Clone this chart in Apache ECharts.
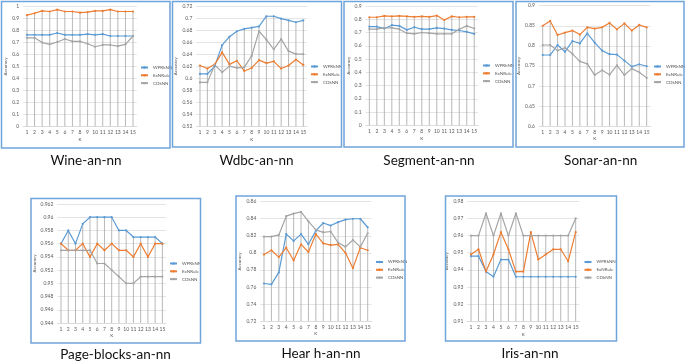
<!DOCTYPE html>
<html><head><meta charset="utf-8">
<script src="https://cdn.jsdelivr.net/npm/echarts@6/dist/echarts.min.js"></script>
<style>html,body{margin:0;padding:0;background:#fff}#c{width:685px;height:364px}</style>
</head><body><div id="c"></div>
<script>
// ---- data ----
const K = ['1','2','3','4','5','6','7','8','9','10','11','12','13','14','15'];
const seriesNames = ['WPRkNN','ExNRule','CDkNN'];

const wineWPR = [0.765,0.765,0.765,0.765,0.78,0.765,0.765,0.765,0.77,0.765,0.77,0.755,0.755,0.755,0.755];
const wineExN = [0.93,0.945,0.965,0.96,0.975,0.96,0.96,0.95,0.955,0.965,0.965,0.975,0.96,0.96,0.96];
const wineCD  = [0.74,0.74,0.70,0.685,0.705,0.73,0.71,0.71,0.69,0.665,0.68,0.68,0.67,0.685,0.755];

const wdbcWPR = [0.607,0.607,0.62,0.655,0.669,0.678,0.682,0.684,0.686,0.703,0.703,0.699,0.696,0.693,0.696];
const wdbcExN = [0.621,0.616,0.623,0.643,0.623,0.629,0.612,0.617,0.630,0.625,0.628,0.616,0.621,0.631,0.622];
const wdbcCD  = [0.593,0.593,0.622,0.610,0.620,0.617,0.618,0.637,0.678,0.664,0.648,0.665,0.645,0.640,0.640];

const segWPR = [0.745,0.745,0.73,0.755,0.75,0.72,0.74,0.725,0.725,0.735,0.73,0.72,0.715,0.705,0.69];
const segExN = [0.815,0.815,0.825,0.822,0.825,0.822,0.818,0.822,0.818,0.828,0.795,0.822,0.815,0.818,0.818];
const segCD  = [0.725,0.725,0.735,0.735,0.725,0.695,0.69,0.70,0.695,0.69,0.69,0.69,0.725,0.75,0.73];

const sonWPR = [0.777,0.777,0.802,0.785,0.812,0.806,0.831,0.808,0.788,0.779,0.778,0.763,0.748,0.754,0.749];
const sonExN = [0.85,0.862,0.827,0.833,0.838,0.828,0.846,0.843,0.846,0.857,0.841,0.856,0.838,0.852,0.846];
const sonCD  = [0.802,0.802,0.788,0.795,0.780,0.761,0.755,0.727,0.739,0.728,0.751,0.727,0.743,0.734,0.720];

const pbWPR = [0.956,0.958,0.956,0.959,0.960,0.960,0.960,0.960,0.958,0.958,0.957,0.957,0.957,0.957,0.956];
const pbExN = [0.956,0.955,0.955,0.956,0.954,0.956,0.955,0.956,0.955,0.955,0.954,0.956,0.954,0.956,0.956];
const pbCD  = [0.955,0.955,0.955,0.955,0.955,0.953,0.953,0.952,0.951,0.950,0.950,0.951,0.951,0.951,0.951];

const heWPR = [0.764,0.763,0.777,0.822,0.814,0.822,0.810,0.826,0.835,0.832,0.836,0.839,0.840,0.840,0.830];
const heExN = [0.798,0.803,0.795,0.806,0.791,0.810,0.801,0.822,0.811,0.809,0.810,0.800,0.782,0.806,0.803];
const heCD  = [0.819,0.819,0.821,0.843,0.846,0.848,0.837,0.827,0.824,0.825,0.812,0.807,0.815,0.807,0.823];

const irWPR = [0.948,0.948,0.939,0.936,0.946,0.946,0.936,0.936,0.936,0.936,0.936,0.936,0.936,0.936,0.936];
const irExN = [0.949,0.952,0.939,0.949,0.962,0.952,0.939,0.939,0.962,0.946,0.949,0.952,0.952,0.945,0.962];
const irCD  = [0.960,0.960,0.973,0.960,0.973,0.960,0.973,0.960,0.960,0.960,0.960,0.960,0.960,0.960,0.970];

const panelTitles = ['Wine-an-nn','Wdbc-an-nn','Segment-an-nn','Sonar-an-nn','Page-blocks-an-nn','Hear h-an-nn','Iris-an-nn'];
const yMins  = [0, 0.52, 0, 0.6, 0.944, 0.72, 0.91];
const yMaxs  = [1, 0.72, 0.9, 0.9, 0.962, 0.86, 0.98];
const ySteps = [0.1, 0.02, 0.1, 0.05, 0.002, 0.02, 0.01];
const panelData = [
  [wineWPR, wineExN, wineCD],
  [wdbcWPR, wdbcExN, wdbcCD],
  [segWPR, segExN, segCD],
  [sonWPR, sonExN, sonCD],
  [pbWPR, pbExN, pbCD],
  [heWPR, heExN, heCD],
  [irWPR, irExN, irCD]
];

// ---- layout / style ----
const colors = ['#5B9BD5','#ED7D31','#A5A5A5'];
const grids = [
  {left:23.2, top:6.7, width:113.6, height:119.6},
  {left:196.3, top:6, width:110.7, height:120.3},
  {left:365.6, top:6, width:112.4, height:119.3},
  {left:539, top:5.7, width:111.4, height:120.3},
  {left:57.4, top:204, width:108.6, height:119},
  {left:260.3, top:201.7, width:111.1, height:119.3},
  {left:467.3, top:201.3, width:112.1, height:120}
];
const yNameGaps = [11.5, 13.5, 13.5, 15, 15, 14, 11];
const legendPos = [
  {left:140, top:65}, {left:310, top:64}, {left:482, top:63}, {left:653, top:64},
  {left:169, top:261}, {left:375, top:259.5}, {left:583.5, top:259.5}
];
const borders = [
  [1.5,1.5,168.5,146.5],[172.5,1.5,169,145.5],[344,1.5,169,145.5],[516,1.5,168,145.5],
  [31,198.5,169.5,144.5],[236,196,169,145],[445.5,196,171,145]
];
const titlePos = [[86,160.5],[256.5,160.5],[429,160.5],[600.7,160.5],[115.5,355],[321,354],[530,354]];

const FONT = 'Lato, "Liberation Sans", sans-serif';
const fmt = v => String(+v.toFixed(4));

const option = {
  animation:false,
  backgroundColor:'#fff',
  grid:[], xAxis:[], yAxis:[], series:[], legend:[], graphic:[]
};

panelData.forEach((arrs, p) => {
  option.grid.push(Object.assign({containLabel:false}, grids[p]));
  option.xAxis.push({
    type:'category', gridIndex:p, data:K, boundaryGap:true,
    name:'K', nameLocation:'middle', nameGap:10.5,
    nameTextStyle:{fontSize:4.5, color:'#595959', fontFamily:FONT},
    axisLine:{show:true, lineStyle:{color:'#d9d9d9', width:0.8}},
    axisTick:{show:false},
    axisLabel:{interval:0, fontSize:5, color:'#595959', margin:3.5, fontFamily:FONT},
    splitLine:{show:false}
  });
  option.yAxis.push({
    type:'value', gridIndex:p, min:yMins[p], max:yMaxs[p], interval:ySteps[p],
    name:'Accuracy', nameLocation:'middle', nameRotate:90, nameGap:yNameGaps[p],
    nameTextStyle:{fontSize:4.5, color:'#595959', fontFamily:FONT},
    axisLine:{show:false}, axisTick:{show:false},
    axisLabel:{fontSize:5, color:'#595959', margin:4, formatter:fmt, fontFamily:FONT},
    splitLine:{show:true, lineStyle:{color:'#d9d9d9', width:0.7}}
  });
  // drop lines from the highest point of each category down to the axis
  const maxVals = K.map((k, i) => [i, Math.max(arrs[0][i], arrs[1][i], arrs[2][i])]);
  const yMin = yMins[p];
  option.series.push({
    type:'custom', xAxisIndex:p, yAxisIndex:p, silent:true, z:1,
    data:maxVals,
    renderItem:(params, api) => {
      const t = api.coord([api.value(0), api.value(1)]);
      const b = api.coord([api.value(0), yMin]);
      return {type:'line', shape:{x1:t[0], y1:t[1], x2:b[0], y2:b[1]},
              style:{stroke:'#a6a6a6', lineWidth:0.8}};
    }
  });
  arrs.forEach((arr, s) => {
    option.series.push({
      type:'line', name:seriesNames[s], xAxisIndex:p, yAxisIndex:p, data:arr,
      color:colors[s], symbol:'circle', symbolSize:2.2, showSymbol:true,
      lineStyle:{width:1.2, color:colors[s]}, itemStyle:{color:colors[s]}, z:3
    });
  });
  option.legend.push({
    orient:'vertical', left:legendPos[p].left, top:legendPos[p].top,
    data:seriesNames, itemWidth:7, itemHeight:3, itemGap:2.8, padding:0,
    textStyle:{fontSize:4.5, color:'#595959', fontFamily:FONT, lineHeight:5},
    selectedMode:false
  });
  const b = borders[p];
  option.graphic.push({
    type:'rect', shape:{x:b[0], y:b[1], width:b[2], height:b[3]},
    style:{fill:null, stroke:'#6fa4da', lineWidth:1.5}, silent:true, z:10
  });
  option.graphic.push({
    type:'text', x:titlePos[p][0], y:titlePos[p][1],
    style:{text:panelTitles[p], font:'13.5px ' + FONT, fill:'#111', textAlign:'center', textVerticalAlign:'middle'},
    silent:true
  });
});

const chart = echarts.init(document.getElementById('c'), null, {renderer:'canvas'});
chart.setOption(option);
</script>
</body></html>
